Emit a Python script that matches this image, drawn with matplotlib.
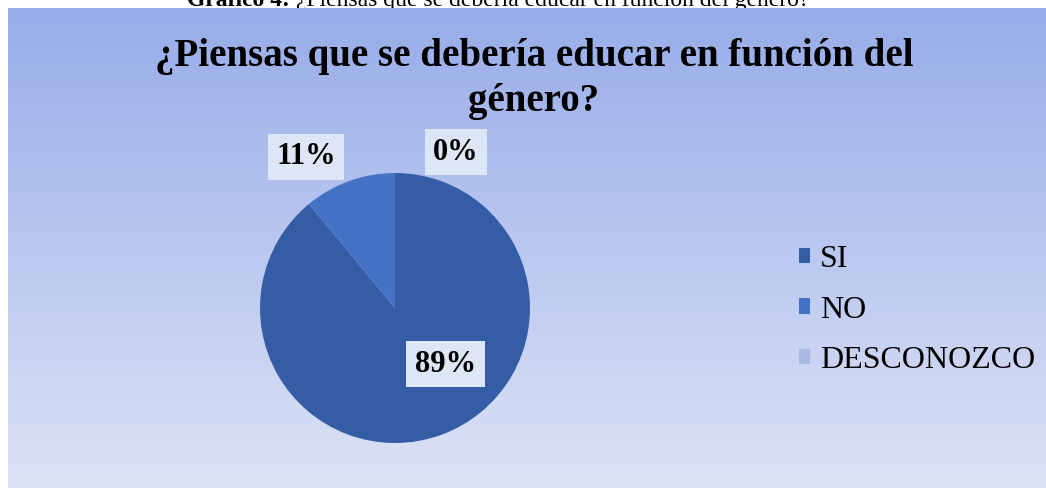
import numpy as np
import matplotlib.pyplot as plt
import matplotlib.colors as mcolors

categorias = ["SI", "NO", "DESCONOZCO"]
valores = [89, 11, 0]
colores = ["#355DA6", "#4472C4", "#A9B8DE"]
etiquetas = ["89%", "11%", "0%"]
# posicion de cada etiqueta: (angulo en grados, distancia relativa al radio)
pos_etiquetas = [(-48, 0.56), (120.5, 1.30), (68.6, 1.24)]

titulo = "¿Piensas que se debería educar en función del\ngénero?"
pie_caption_b = "Gráfico 4:"
pie_caption = " ¿Piensas que se debería educar en función del género?"

W, H = 1046, 488
fig = plt.figure(figsize=(W / 100, H / 100), dpi=100)
serif = ["Liberation Serif", "DejaVu Serif"]

# leyenda del documento (cortada por el grafico)
t1 = fig.text(187 / W, 1 - 6 / H, pie_caption_b, fontsize=17, fontweight="bold",
              family=serif, ha="left", va="baseline", zorder=-2)
fig.canvas.draw()
bb = t1.get_window_extent()
fig.text(bb.x1 / W, 1 - 6 / H, pie_caption, fontsize=17, family=serif,
         ha="left", va="baseline", zorder=-2)

# fondo con degradado
bg = fig.add_axes([8 / W, 0, 1 - 8 / W, 1 - 8 / H], zorder=-1)
top = np.array(mcolors.to_rgb("#97ACE9"))
bot = np.array(mcolors.to_rgb("#DDE3F6"))
t = np.linspace(0, 1, 256)[:, None]
grad = (top * (1 - t) + bot * t)[:, None, :]
bg.imshow(grad, aspect="auto", extent=[0, 1, 0, 1])
bg.axis("off")

fig.text(534 / W, 1 - 79 / H, titulo, fontsize=28, fontweight="bold",
         family=serif, ha="center", va="center", linespacing=1.3)

# pastel
r = 135
cx, cy = 395, 308
ax = fig.add_axes([(cx - r) / W, (H - cy - r) / H, 2 * r / W, 2 * r / H])
wedges, _ = ax.pie(valores, colors=colores, startangle=90, counterclock=False,
                   radius=1, wedgeprops=dict(linewidth=0))
ax.set_xlim(-1, 1)
ax.set_ylim(-1, 1)
ax.set_aspect("equal")
for txt, (ang, d) in zip(etiquetas, pos_etiquetas):
    a = np.deg2rad(ang)
    ax.text(d * np.cos(a), d * np.sin(a), txt, fontsize=22, fontweight="bold",
            family=serif, ha="center", va="center", clip_on=False,
            bbox=dict(boxstyle="square,pad=0.28", fc="#DCE6F4", ec="none"))

fig.legend(wedges, categorias, loc="center left",
           bbox_to_anchor=(770 / W, 1 - 310 / H), frameon=False,
           prop={"family": serif, "size": 23}, handlelength=0.36,
           handleheight=0.36, handletextpad=0.3, labelspacing=0.68)

fig.savefig("out.png", dpi=100)
